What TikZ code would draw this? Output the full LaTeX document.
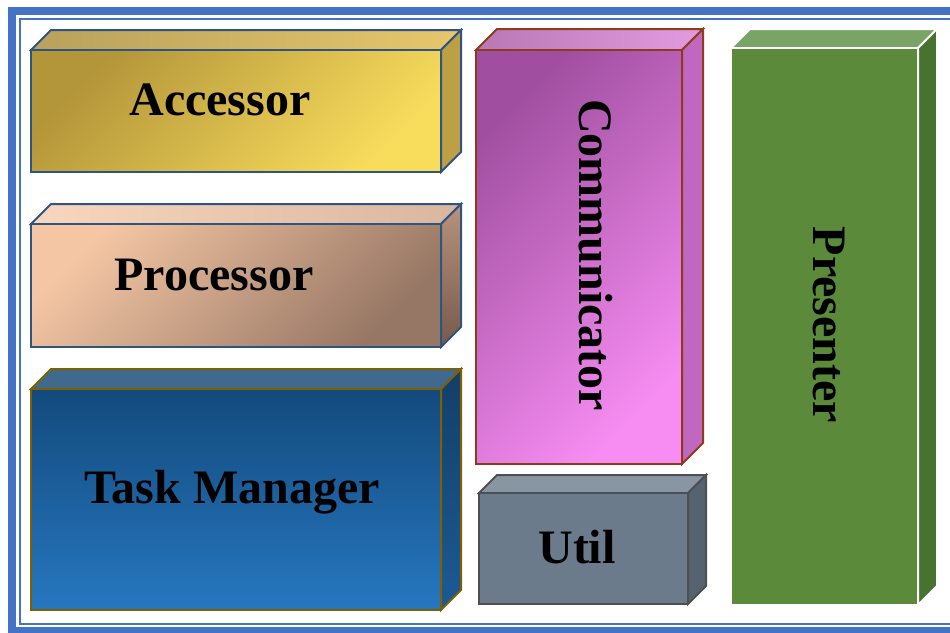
\documentclass[tikz,border=0pt]{standalone}
\usepackage{fontspec}
\setmainfont{Liberation Serif}
\usetikzlibrary{calc}

\definecolor{frameblue}{HTML}{4472C4}
\definecolor{edgeblue}{HTML}{2E5480}
\definecolor{edgegold}{HTML}{7F6000}
\definecolor{edgebrown}{HTML}{8E3B1C}
\definecolor{edgegray}{HTML}{4D4F52}
% face colours
\definecolor{accA}{HTML}{B3953A}\definecolor{accB}{HTML}{F8DC5C}
\definecolor{accC}{HTML}{B9A15C}\definecolor{accD}{HTML}{E6C76C}
\definecolor{accE}{HTML}{BDA046}
\definecolor{procA}{HTML}{F4C6A4}\definecolor{procB}{HTML}{967664}
\definecolor{procC}{HTML}{F8D7BE}\definecolor{procD}{HTML}{D9B6A0}
\definecolor{procE}{HTML}{B8927C}\definecolor{procF}{HTML}{765A4C}
\definecolor{taskA}{HTML}{134A7C}\definecolor{taskB}{HTML}{2677C0}
\definecolor{taskC}{HTML}{3F6A8E}
\definecolor{taskE}{HTML}{123F68}\definecolor{taskF}{HTML}{1C5A96}
\definecolor{commA}{HTML}{A04FA0}\definecolor{commB}{HTML}{F78DF3}
\definecolor{commC}{HTML}{B878B4}\definecolor{commD}{HTML}{E39BE0}
\definecolor{commE}{HTML}{C068C0}
\definecolor{utilA}{HTML}{6B7B8B}\definecolor{utilC}{HTML}{8896A3}
\definecolor{utilE}{HTML}{55626F}
\definecolor{presA}{HTML}{5B8A3A}\definecolor{presC}{HTML}{7AA465}
\definecolor{presE}{HTML}{48722F}

\tikzset{face/.style={line width=2pt, line join=miter}}
\tikzset{lbl/.style={font=\fontsize{48}{48}\selectfont\bfseries, inner sep=0pt, anchor=base}}
% slab styles: front, top and side face
\tikzset{
  acc front/.style={draw=edgeblue, top color=accA, bottom color=accB, shading angle=45},
  acc top/.style={draw=edgeblue, left color=accC, right color=accD},
  acc side/.style={draw=edgeblue, fill=accE},
  proc front/.style={draw=edgeblue, top color=procA, bottom color=procB, shading angle=45},
  proc top/.style={draw=edgeblue, left color=procC, right color=procD},
  proc side/.style={draw=edgeblue, top color=procE, bottom color=procF},
  task front/.style={draw=edgegold, top color=taskA, bottom color=taskB},
  task top/.style={draw=edgegold, fill=taskC},
  task side/.style={draw=edgegold, top color=taskE, bottom color=taskF},
  comm front/.style={draw=edgebrown, top color=commA, bottom color=commB, shading angle=45},
  comm top/.style={draw=edgebrown, left color=commC, right color=commD},
  comm side/.style={draw=edgebrown, fill=commE},
  util front/.style={draw=edgegray, fill=utilA},
  util top/.style={draw=edgegray, fill=utilC},
  util side/.style={draw=edgegray, fill=utilE},
  pres front/.style={draw=white, fill=presA},
  pres top/.style={draw=white, fill=presC},
  pres side/.style={draw=white, fill=presE},
}

% \slab{name}{front nw}{front se}{depth}
\newcommand{\slab}[4]{%
  \coordinate (#1-nw) at (#2);
  \coordinate (#1-se) at (#3);
  \coordinate (#1-ne) at (#1-nw -| #1-se);
  \draw[face, #1 top] (#1-nw) -- ++(#4,-#4) -- ($(#1-ne)+(#4,-#4)$) -- (#1-ne) -- cycle;
  \draw[face, #1 side] (#1-ne) -- ++(#4,-#4) -- ($(#1-se)+(#4,-#4)$) -- (#1-se) -- cycle;
  \draw[face, #1 front] (#1-nw) rectangle (#1-se);
}

\begin{document}
\begin{tikzpicture}[x=1pt, y=-1pt]
  \useasboundingbox (0,0) rectangle (950,632);

  % double frame
  \draw[frameblue, line width=8pt] (12,11) rectangle (962,631);
  \draw[frameblue, line width=2pt] (20,18.7) rectangle (956,623.5);

  \slab{acc}{31,50}{441,172}{20}
  \slab{proc}{31,224}{441,347}{20}
  \slab{task}{31,389}{441,610}{20}
  \slab{comm}{476,50}{682,464}{21}
  \slab{util}{479,493}{688,604}{18}
  \slab{pres}{731,48}{918,605}{19}

  \node[lbl] (accT) at (220,115) {Accessor};
  \node[lbl] (procT) at (214,290) {Processor};
  \node[lbl] (taskT) at (232,503) {Task Manager};
  \node[lbl, rotate=-90] (commT) at (579,255) {Communicator};
  \node[lbl] (utilT) at (577,563) {Util};
  \node[lbl, rotate=-90] (presT) at (813,325) {Presenter};
\end{tikzpicture}
\end{document}
